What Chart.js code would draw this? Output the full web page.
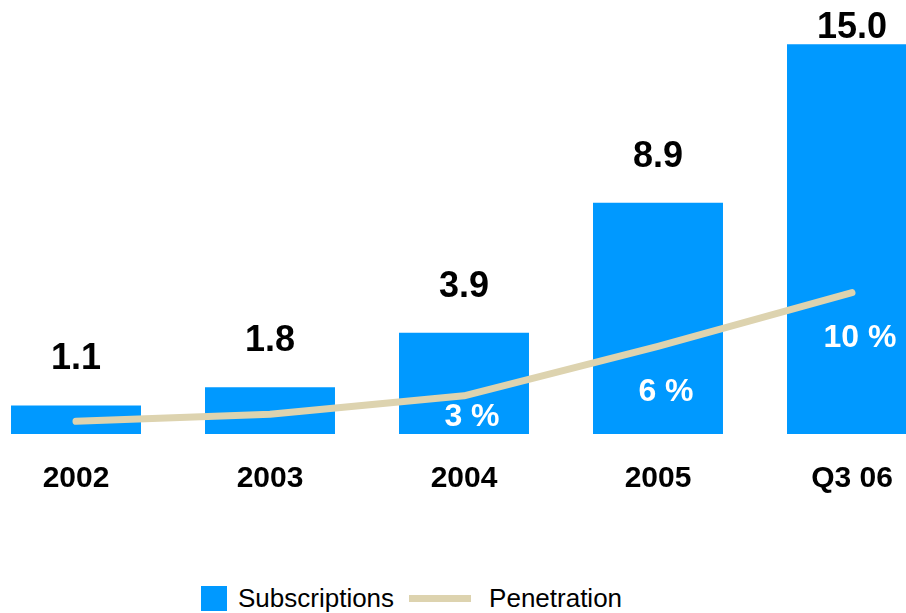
<!DOCTYPE html>
<html>
<head>
<meta charset="utf-8">
<script src="https://cdn.jsdelivr.net/npm/chart.js@4.4.0/dist/chart.umd.min.js"></script>
<style>
  html, body { margin: 0; padding: 0; background: #fff; overflow: hidden; }
  body { width: 906px; height: 613px; position: relative; font-family: "Liberation Sans", Arial, sans-serif; }
  #wrap { position: absolute; left: -21px; top: 0; width: 970px; height: 516px; }
  #legend { position: absolute; left: 201px; top: 583px; display: flex; align-items: center; font-size: 26px; color: #000; }
  #legend .item { display: flex; align-items: center; }
  #legend .box { width: 26px; height: 25px; margin-right: 11px; }
  #legend .line { width: 62px; height: 7px; margin-left: 15px; margin-right: 18px; }
</style>
</head>
<body>
<div id="wrap"><canvas id="chart"></canvas></div>
<div id="legend"></div>
<script>
const categories = ['2002', '2003', '2004', '2005', 'Q3 06'];
const subscriptions = [1.1, 1.8, 3.9, 8.9, 15.0];
const penetration = [0.9, 1.4, 2.7, 6.2, 10.0];
const penetrationLabels = ['', '', '3 %', '6 %', '10 %'];

const blue = '#0099FF';
const beige = '#DDD3AF';

// value labels above bars and % labels under the line
const labelPlugin = {
  id: 'labels',
  afterDatasetsDraw(chart) {
    const ctx = chart.ctx;
    const barMeta = chart.getDatasetMeta(0);
    const lineMeta = chart.getDatasetMeta(1);
    const base = chart.scales.y.getPixelForValue(0);
    ctx.save();
    ctx.textAlign = 'center';
    ctx.textBaseline = 'middle';
    ctx.font = 'bold 36px "Liberation Sans", Arial, sans-serif';
    ctx.fillStyle = '#000';
    barMeta.data.forEach((bar, i) => {
      const y = Math.max(bar.y - 46, 28);
      ctx.fillText(subscriptions[i].toFixed(1), bar.x, y);
    });
    ctx.font = 'bold 32px "Liberation Sans", Arial, sans-serif';
    ctx.fillStyle = '#fff';
    lineMeta.data.forEach((pt, i) => {
      if (!penetrationLabels[i]) return;
      const y = Math.min(pt.y + 46, base - 17);
      ctx.fillText(penetrationLabels[i], pt.x + 8, y);
    });
    ctx.restore();
  }
};

const chart = new Chart(document.getElementById('chart'), {
  type: 'bar',
  data: {
    labels: categories,
    datasets: [
      {
        type: 'bar',
        label: 'Subscriptions',
        data: subscriptions,
        backgroundColor: blue,
        categoryPercentage: 1,
        barPercentage: 0.67,
        yAxisID: 'y',
        order: 1
      },
      {
        type: 'line',
        label: 'Penetration',
        data: penetration,
        borderColor: beige,
        borderWidth: 7,
        borderCapStyle: 'round',
        borderJoinStyle: 'round',
        pointRadius: 0,
        tension: 0,
        yAxisID: 'y1',
        order: 0
      }
    ]
  },
  options: {
    responsive: true,
    maintainAspectRatio: false,
    animation: false,
    layout: { padding: 0 },
    plugins: {
      legend: { display: false },
      tooltip: { enabled: false }
    },
    scales: {
      x: {
        grid: { display: false },
        border: { display: false },
        ticks: {
          color: '#000',
          padding: 19,
          font: { family: '"Liberation Sans", Arial, sans-serif', size: 30, weight: 'bold' }
        }
      },
      y: { display: false, min: 0, max: 16.7 },
      y1: { display: false, min: 0, max: 30.7 }
    }
  },
  plugins: [labelPlugin]
});

// html legend built from the datasets
const legendEl = document.getElementById('legend');
chart.data.datasets.forEach(ds => {
  const item = document.createElement('div');
  item.className = 'item';
  const mark = document.createElement('span');
  if (ds.type === 'bar') {
    mark.className = 'box';
    mark.style.background = ds.backgroundColor;
  } else {
    mark.className = 'line';
    mark.style.background = ds.borderColor;
  }
  const text = document.createElement('span');
  text.textContent = ds.label;
  item.appendChild(mark);
  item.appendChild(text);
  legendEl.appendChild(item);
});
</script>
</body>
</html>
